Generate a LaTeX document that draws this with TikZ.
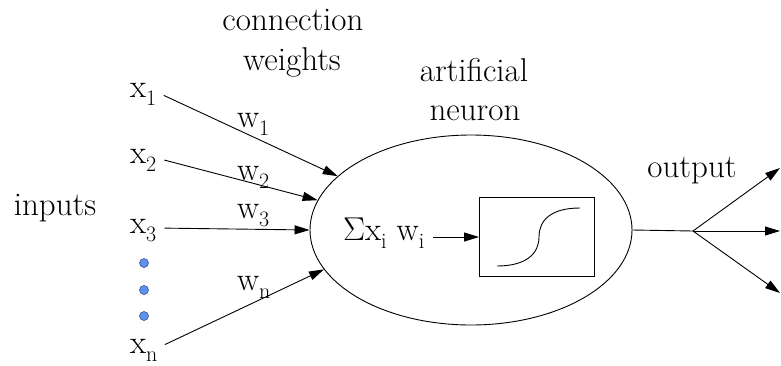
\RequirePackage{fix-cm}
\documentclass[tikz,border=0pt]{standalone}
\usetikzlibrary{arrows.meta,positioning,calc,shapes.geometric}
\definecolor{DOT-BLUE}{RGB}{96, 146, 236}
\definecolor{DOT-EDGE}{RGB}{40, 64, 140}
\newcommand{\lowsub}[1]{\raisebox{-8pt}{\fontsize{22}{22}\selectfont #1}}

\begin{document}
\begin{tikzpicture}[x=1pt, y=-1pt,
    every node/.style={font=\fontsize{33}{38}\selectfont, inner sep=0pt},
    lbl/.style={anchor=base},
    inp/.style={anchor=base west, text height=10pt, text depth=0pt},
    wire/.style={line width=0.9pt, -{Triangle[length=15pt,width=9pt]}}]
  \useasboundingbox (0,0) rectangle (781,365);

  % Titles
  \node[lbl] (conn) at (293,30) {connection};
  \node[lbl] (wts) at (292,70) {weights};
  \node[lbl] (art) at (474,81) {artificial};
  \node[lbl] (neu) at (475,120) {neuron};
  \node[lbl] (outlbl) at (692,177) {output};
  \node[lbl] (inlbl) at (55,215) {inputs};

  % Inputs
  \node[inp] (x1) at (130,97) {x\lowsub{1}};
  \node[inp] (x2) at (130,163) {x\lowsub{2}};
  \node[inp] (x3) at (130,233) {x\lowsub{3}};
  \node[inp] (xn) at (130,353) {x\lowsub{n}};
  \foreach \y in {263,290,316}
    \filldraw[fill=DOT-BLUE, draw=DOT-EDGE, line width=0.5pt] (144,\y) circle (4.5);

  % Weights
  \node[anchor=base west] (w1) at (237,127) {w\lowsub{1}};
  \node[anchor=base west] (w2) at (237,180) {w\lowsub{2}};
  \node[anchor=base west] (w3) at (237,218) {w\lowsub{3}};
  \node[anchor=base west] (wn) at (237,290) {w\lowsub{n}};

  % Neuron
  \node[ellipse, draw, line width=0.9pt, minimum width=322pt, minimum height=190pt] (neuron) at (471,230) {};
  \node[draw, line width=0.9pt, minimum width=115pt, minimum height=79pt] (act) at (537,237) {};
  \draw[line width=0.9pt] ($(act.center)+(-40,29)$) .. controls +(30,0) and +(0,16) .. ($(act.center)+(2,0)$)
    .. controls +(0,-16) and +(-30,0) .. ($(act.center)+(43,-29)$);
  \node[anchor=base west] (sum) at (343,240) {$\Sigma$x\lowsub{i} w\lowsub{i}};
  \draw[wire, shorten <=9pt] (sum.east |- act.west) -- (act.west);

  % Input connections
  \draw[wire, shorten <=8pt] (x1.east) -- (neuron.158);
  \draw[wire, shorten <=8pt] (x2.east) -- (neuron.169);
  \draw[wire, shorten <=8pt] (x3.east) -- (neuron.west);
  \draw[wire, shorten <=8pt] (xn.east) -- (neuron.195);

  % Output
  \coordinate (split) at (693,231);
  \coordinate (out1) at (780,168);
  \coordinate (out2) at (780,231);
  \coordinate (out3) at (780,293);
  \draw[line width=0.9pt] (neuron.east) -- (split);
  \foreach \o in {out1,out2,out3}
    \draw[wire] (split) -- (\o);
\end{tikzpicture}
\end{document}
